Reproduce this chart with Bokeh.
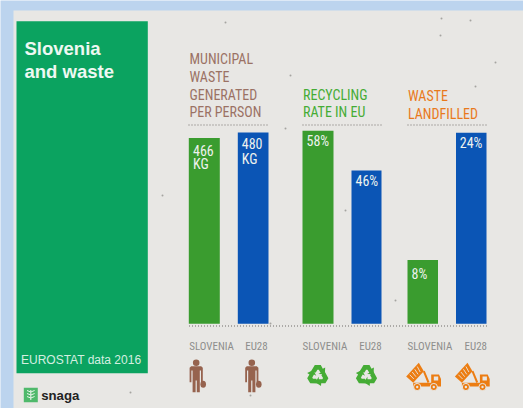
from bokeh.plotting import figure
from bokeh.embed import file_html
from bokeh.resources import INLINE
from bokeh.models import Range1d
from bokeh.core.properties import value
import math

CATEGORIES = ["SLOVENIA", "EU28"]
waste_kg = [466, 480]
recycling_pct = [58, 46]
landfilled_pct = [8, 24]
waste_labels = [["466", "KG"], ["480", "KG"]]
recycling_labels = ["58%", "46%"]
landfilled_labels = ["8%", "24%"]
waste_header = ["MUNICIPAL", "WASTE", "GENERATED", "PER PERSON"]
recycling_header = ["RECYCLING", "RATE IN EU"]
landfill_header = ["WASTE", "LANDFILLED"]
TITLE = ["Slovenia", "and waste"]
SOURCE = "EUROSTAT data 2016"
BRAND = "snaga"

W, H = 523, 408
BASE = 323.3
PAPER = "#e8e7e4"
GREEN, BLUE = "#3a9c2f", "#0b55b5"
BROWN, RGREEN, ORANGE = "#9b7264", "#45ac35", "#e8791c"
GREY = "#8e8e8c"
COND = value("Roboto Condensed")
ARIAL = value("Liberation Sans")

p = figure(width=W, height=H, x_range=Range1d(0, W), y_range=Range1d(H, 0),
           output_backend="svg", toolbar_location=None, min_border=0,
           outline_line_color=None, background_fill_color="#bcd4ee", border_fill_color="#bcd4ee")
p.axis.visible = False
p.grid.visible = False

def yr(px_per_unit):
    return Range1d(-(H - BASE) / px_per_unit, BASE / px_per_unit)
p.extra_y_ranges = {"kg": yr(0.3985), "rec": yr(3.33), "land": yr(7.96)}

p.quad(left=[13], right=[W], top=[10], bottom=[H], fill_color=PAPER, line_color=None)
p.quad(left=[16], right=[147.3], top=[20.7], bottom=[372.7], fill_color="#0ba360", line_color=None)

speck_x = [470, 440, 475, 285, 270, 441, 290, 162, 250, 395, 130, 495, 345, 225]
speck_y = [20, 35, 86, 128, 323, 18, 75, 195, 395, 300, 392, 62, 210, 22]
p.scatter(speck_x, speck_y, size=2, fill_color="#a5a4a0", line_color=None)

def rtext(x, y, t, size, color, font=COND, style="normal"):
    p.text(x=[x], y=[y - 0.3 * size], text=[t], text_font=font, text_font_size=f"{size}px", text_color=color,
           text_font_style=style, text_baseline="alphabetic", text_align="left")

rtext(24, 53.5, TITLE[0], 18.5, "#eef8f2", ARIAL, "bold")
rtext(24, 76.7, TITLE[1], 18.5, "#eef8f2", ARIAL, "bold")
rtext(20.5, 362.7, SOURCE, 12, "#d5efe0", ARIAL)

bars = [(188.3, 219.3), (237.3, 268), (302, 333), (351, 381), (407, 437.5), (455.5, 486)]
series = [("kg", waste_kg), ("rec", recycling_pct), ("land", landfilled_pct)]
i = 0
for name, vals in series:
    for v, c in zip(vals, (GREEN, BLUE)):
        l, r = bars[i]
        p.quad(left=[l], right=[r], bottom=[0], top=[v], fill_color=c, line_color=None, y_range_name=name)
        i += 1

for (t, x, y) in [(waste_labels[0][0], 192.5, 154), (waste_labels[0][1], 192.5, 168),
                  (waste_labels[1][0], 241.3, 146.7), (waste_labels[1][1], 241.3, 162.7),
                  (recycling_labels[0], 306, 145), (recycling_labels[1], 355, 185),
                  (landfilled_labels[0], 411, 278), (landfilled_labels[1], 459.3, 146.7)]:
    rtext(x, y, t, 14, "#eef2ee")

for lines, x, ys, c in [(waste_header, 189, [62.3, 80.3, 98.3, 116], BROWN),
                        (recycling_header, 302.5, [98.3, 116], RGREEN),
                        (landfill_header, 407.5, [99.3, 117.3], ORANGE)]:
    for t, y in zip(lines, ys):
        rtext(x, y, t, 14, c)

for x0, x1, y in [(188, 268.7, 124.5), (302, 382, 124.5), (407, 487, 124.5), (188.5, 486.5, 325.5)]:
    p.line([x0, x1], [y, y], line_color="#6f6d68", line_width=1.2, line_dash="1 2")

for t, x in [(CATEGORIES[0], 188.7), (CATEGORIES[1], 244.7), (CATEGORIES[0], 302), (CATEGORIES[1], 358.7),
             (CATEGORIES[0], 407), (CATEGORIES[1], 464)]:
    rtext(x, 349.5, t, 11, GREY)

def man(cx):
    c = "#96634e"
    p.circle(x=[cx], y=[362.3], radius=3.3, fill_color=c, line_color=None)
    p.patch([cx-5, cx+5, cx+6.6, cx+6.6, cx+4.8, cx+4.8, cx+3.6, cx+3.6, cx+0.6, cx+0.6, cx-0.6, cx-0.6, cx-3.6, cx-3.6, cx-4.8, cx-4.8, cx-6.6, cx-6.6],
            [365.8, 365.8, 367.3, 381.7, 381.7, 370, 370, 391.7, 391.7, 380, 380, 391.7, 391.7, 370, 370, 381.7, 381.7, 367.3],
            fill_color=c, line_color=None)
    p.ellipse(x=[cx+7], y=[383.7], width=5.6, height=7, fill_color=c, line_color=None)
man(195.7); man(251.3)

def recycle(cx, cy=375):
    arm = [(-7.5, -3), (-3, -10.5), (3, -10.5), (5, -6.8), (7.4, -8), (7, -1.2), (0.6, -1.4), (2.8, -2.8), (1, -5.8), (-0.4, -5.8), (-2, -3)]
    for k in range(3):
        a = k * 2 * math.pi / 3
        xs = [cx + px*math.cos(a) - py*math.sin(a) for px, py in arm]
        ys = [cy + px*math.sin(a) + py*math.cos(a) for px, py in arm]
        p.patch(xs, ys, fill_color=RGREEN, line_color=None)
recycle(317.3); recycle(366)

def truck(dx):
    c = "#ec7d12"
    X = lambda v: [q + dx for q in v]
    p.patch(X([412.7, 430.7, 430.7, 438.5, 440.5, 440.5, 412.7]), [382.3, 382.3, 374, 374, 378.5, 386, 386],
            fill_color=c, line_color=None)
    p.quad(left=X([433.3]), right=X([437.7]), top=[376], bottom=[380], fill_color=PAPER, line_color=None)
    p.line(X([423.3, 428]), [370.7, 382], line_color=c, line_width=2)
    p.patch(X([405.7, 418.3, 423.3, 412.7]), [376, 362.3, 370.7, 382.3], fill_color=c, line_color=None)
    for k in range(1, 5):
        f = k / 5
        p.line([dx + 405.7 + 12.6*f + 1, dx + 412.7 + 10.6*f - 1.5], [376 - 13.7*f + 1, 382.3 - 11.6*f - 1.5], line_color=PAPER, line_width=0.9)
    p.circle(x=X([416.7, 433.3]), y=[386.5, 386.5], radius=3.6, fill_color=c, line_color=PAPER, line_width=1)
    p.circle(x=X([416.7, 433.3]), y=[386.5, 386.5], radius=1.2, fill_color=PAPER, line_color=None)
truck(0); truck(48.7)

p.quad(left=[23.3], right=[37.3], top=[387.3], bottom=[401.7], fill_color="#4fb96b", line_color=None)
p.line([30.3, 30.3], [389.5, 399.5], line_color="#e8f5ea", line_width=1)
for yy in (391.5, 394.5, 397.5):
    p.line([26.5, 30.3, 34.1], [yy - 1.5, yy, yy - 1.5], line_color="#e8f5ea", line_width=1)
rtext(40.7, 399, BRAND, 13.2, "#222222", ARIAL, "bold")

open("out.html", "w").write(file_html(p, INLINE))
